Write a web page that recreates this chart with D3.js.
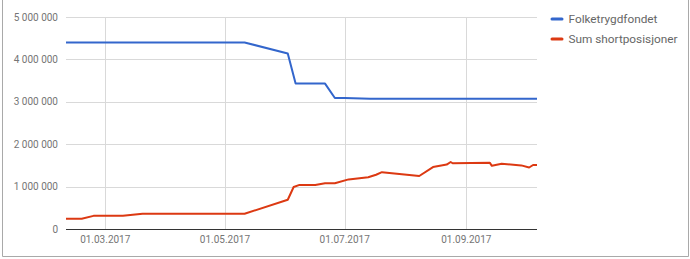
<!DOCTYPE html>
<html>
<head>
<meta charset="utf-8">
<script src="https://cdn.jsdelivr.net/npm/d3@7"></script>
<style>
  body { margin: 0; background: #fff; }
  svg { display: block; font-family: Roboto, Arial, sans-serif; }
</style>
</head>
<body>
<div class="chart-wrapper"></div>
<script>
// data
const seriesNames = ["Folketrygdfondet", "Sum shortposisjoner"];
const seriesColors = ["#3366cc", "#dc3912"];

const ftfDates = ["2017-02-09", "2017-05-11", "2017-06-02", "2017-06-06", "2017-06-21",
  "2017-06-26", "2017-07-01", "2017-07-14", "2017-10-07"];
const ftfValues = [4400000, 4400000, 4140000, 3430000, 3430000,
  3090000, 3090000, 3070000, 3070000];

const shortDates = ["2017-02-09", "2017-02-17", "2017-02-23", "2017-03-10", "2017-03-20",
  "2017-05-11", "2017-06-02", "2017-06-05", "2017-06-08", "2017-06-16", "2017-06-21",
  "2017-06-26", "2017-07-03", "2017-07-13", "2017-07-17", "2017-07-20", "2017-08-08",
  "2017-08-15", "2017-08-22", "2017-08-24", "2017-08-25", "2017-09-13", "2017-09-14",
  "2017-09-19", "2017-09-29", "2017-10-03", "2017-10-05", "2017-10-07"];
const shortValues = [240000, 240000, 310000, 310000, 360000,
  360000, 690000, 990000, 1040000, 1040000, 1080000,
  1080000, 1170000, 1220000, 1280000, 1340000, 1250000,
  1460000, 1520000, 1580000, 1550000, 1560000, 1490000,
  1540000, 1500000, 1450000, 1510000, 1510000];

const yTicks = [0, 1000000, 2000000, 3000000, 4000000, 5000000];
const xTicks = ["2017-03-01", "2017-05-01", "2017-07-01", "2017-09-01"];

const W = 690, H = 259;
const margin = {top: 17, right: 153, bottom: 30, left: 66};

const parse = d3.timeParse("%Y-%m-%d");
const fmtDate = d3.timeFormat("%d.%m.%Y");
const fmtNum = v => d3.format(",")(v).replace(/,/g, " ");

const series = [
  ftfDates.map((d, i) => ({date: parse(d), value: ftfValues[i]})),
  shortDates.map((d, i) => ({date: parse(d), value: shortValues[i]}))
];

const x = d3.scaleTime()
  .domain([parse(ftfDates[0]), parse(ftfDates[ftfDates.length - 1])])
  .range([margin.left, W - margin.right]);
const y = d3.scaleLinear()
  .domain([0, 5000000])
  .range([H - margin.bottom, margin.top]);

const svg = d3.select(".chart-wrapper").append("svg")
  .attr("width", W)
  .attr("height", H);

// outer frame (left, bottom, right)
svg.append("path")
  .attr("d", `M2.5,0 V256.5 H688.5 V0`)
  .attr("fill", "none")
  .attr("stroke", "#a9a9a9")
  .attr("stroke-width", 1);

// horizontal grid
svg.append("g")
  .selectAll("line")
  .data(yTicks.filter(v => v > 0))
  .join("line")
  .attr("x1", margin.left).attr("x2", W - margin.right)
  .attr("y1", d => Math.round(y(d)) + 0.5).attr("y2", d => Math.round(y(d)) + 0.5)
  .attr("stroke", "#d9d9d9");

// vertical grid
svg.append("g")
  .selectAll("line")
  .data(xTicks.map(parse))
  .join("line")
  .attr("x1", d => Math.round(x(d)) + 0.5).attr("x2", d => Math.round(x(d)) + 0.5)
  .attr("y1", margin.top).attr("y2", H - margin.bottom)
  .attr("stroke", "#d9d9d9");

// zero baseline
svg.append("line")
  .attr("x1", margin.left).attr("x2", W - margin.right)
  .attr("y1", Math.round(y(0)) + 0.5).attr("y2", Math.round(y(0)) + 0.5)
  .attr("stroke", "#333");

// y labels
svg.append("g")
  .selectAll("text")
  .data(yTicks)
  .join("text")
  .attr("x", margin.left - 8)
  .attr("y", d => y(d))
  .attr("dy", "0.35em")
  .attr("text-anchor", "end")
  .attr("fill", "#757575")
  .style("font-size", "10px")
  .text(fmtNum);

// x labels
svg.append("g")
  .selectAll("text")
  .data(xTicks.map(parse))
  .join("text")
  .attr("x", d => x(d))
  .attr("y", H - margin.bottom + 14)
  .attr("text-anchor", "middle")
  .attr("fill", "#757575")
  .style("font-size", "10px")
  .text(fmtDate);

// lines
const line = d3.line()
  .x(d => x(d.date))
  .y(d => y(d.value));

svg.append("g")
  .selectAll("path")
  .data(series)
  .join("path")
  .attr("d", line)
  .attr("fill", "none")
  .attr("stroke", (d, i) => seriesColors[i])
  .attr("stroke-width", 2)
  .attr("stroke-linejoin", "round");

// legend
const legend = svg.append("g")
  .selectAll("g")
  .data(seriesNames)
  .join("g")
  .attr("transform", (d, i) => `translate(552, ${19 + i * 20})`);

legend.append("line")
  .attr("x1", 0).attr("x2", 10)
  .attr("stroke", (d, i) => seriesColors[i])
  .attr("stroke-width", 3)
  .attr("stroke-linecap", "round");

legend.append("text")
  .attr("x", 16.5)
  .attr("dy", "0.35em")
  .attr("fill", "#666")
  .style("font-size", "11.8px")
  .text(d => d);
</script>
</body>
</html>
